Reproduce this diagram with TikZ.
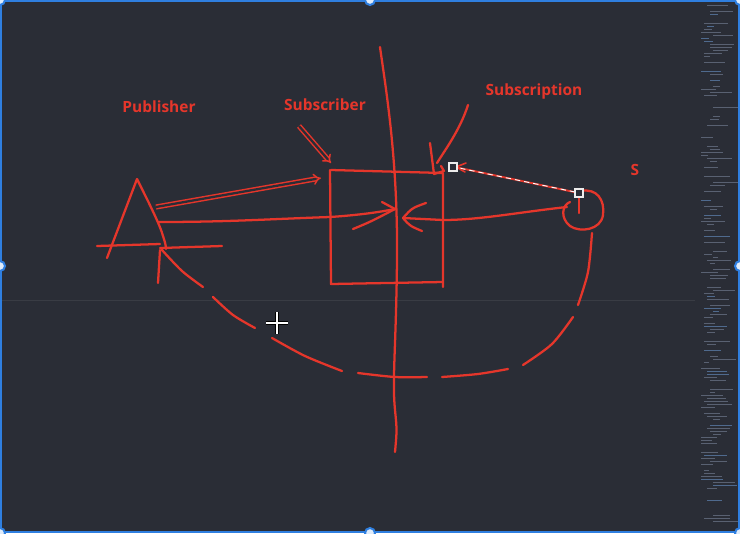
\documentclass[tikz,border=0pt]{standalone}
\usepackage{fontspec}
\setmainfont{Open Sans}
\usetikzlibrary{arrows.meta}
\definecolor{bg}{HTML}{2A2D36}
\definecolor{ink}{HTML}{E5362B}
\definecolor{selblue}{HTML}{2F7FE0}
\definecolor{mm}{HTML}{596172}
\definecolor{mmb}{HTML}{4F6A8E}
\begin{document}
\begin{tikzpicture}[x=0.75pt,y=-0.75pt,
  pen/.style={draw=ink,line width=1.7pt,line cap=round,line join=round},
  lbl/.style={text=ink,font=\bfseries\fontsize{11.6}{13}\selectfont,inner sep=0pt},
  dbl/.style={draw=ink,double=bg,double distance=1.7pt,line width=1.1pt,-{Implies}},
  handle/.style={draw=white!85!gray,line width=0.9pt,fill=bg}]
\fill[bg] (0,0) rectangle (740,533);
\useasboundingbox (0,0) rectangle (740,533);
\draw[bg!93!white,line width=0.6pt] (0,300) -- (695,300);
% minimap
\pgfmathsetseed{7}
\foreach \i in {0,...,172}{
  \pgfmathtruncatemacro\skp{random(0,9)}
  \ifnum\skp>2
    \pgfmathsetmacro\yy{5+3*\i}
    \pgfmathsetmacro\xs{701+random(0,4)*3}
    \pgfmathsetmacro\ln{random(4,26)}
    \pgfmathtruncatemacro\cl{random(0,5)}
    \ifnum\cl=0
      \draw[line width=0.5pt,mmb] (\xs,\yy) -- ++(\ln,0);
    \else
      \draw[line width=0.5pt,mm] (\xs,\yy) -- ++(\ln,0);
    \fi
  \fi
}
% labels
\node[lbl] (pub) at (159,107) {Publisher};
\node[lbl] (sub) at (325,105) {Subscriber};
\node[lbl] (subn) at (534,91) {Subscription};
\node[lbl] (s) at (635,170) {S};
% triangle publisher
\draw[pen] (107,258) -- (137,179) .. controls (150,205) and (160,225) .. (163,236) .. controls (165,242) and (166,246) .. (166,249);
\draw[pen] (97,246) -- (160,244);
\draw[pen] (160,248) -- (222,246);
% arrows from publisher
\draw[dbl] (156,207) -- (321,178);
\draw[pen] (158,222) .. controls (230,222) and (270,219) .. (330,217) .. controls (360,215) and (380,212) .. (395,209);
\draw[pen] (382,202) -- (395,209);
\draw[pen] (353,229) .. controls (370,222) .. (395,209);
% line from S
\draw[pen] (567,207) .. controls (520,212) and (480,220) .. (443,220) -- (403,218);
\draw[pen] (426,203) .. controls (412,208) .. (403,218) .. controls (410,226) .. (422,231);
% box
\draw[pen] (330,170) -- (331,284) -- (443,282);
\draw[pen] (331,170) -- (443,173) -- (443,287);
% vertical line
\draw[pen] (380,47) .. controls (386,90) and (398,160) .. (397,260) .. controls (396,350) and (392,380) .. (395,410) .. controls (397,430) .. (395,452);
% subscriber pointer
\draw[dbl] (299,126) -- (331,163);
% subscription pointer
\draw[pen] (468,105) .. controls (460,130) and (445,150) .. (437,163);
\draw[pen] (430,143) -- (434,174) -- (444,171) -- (441,166);
% selected line
\draw[pen,line width=1.4pt] (579,193) -- (455,167);
\draw[white,line width=0.7pt,dash pattern=on 4pt off 3pt] (575,192) -- (459,168);
\draw[pen,line width=1.2pt] (466,163) -- (456,167) -- (465,172);
% circle S
\draw[pen] (581,191) .. controls (597,188) and (605,200) .. (603,215) .. controls (601,230) and (580,233) .. (570,226) .. controls (560,218) and (562,205) .. (570,202);
\draw[pen] (579,193) -- (579,213);
\draw[handle] (449,163) rectangle (457,171);
\draw[handle] (575,189) rectangle (583,197);
% dashed return curve
\draw[pen] (160,250) -- (158,283);
\draw[pen] plot[smooth] coordinates {(162,250) (182,271) (203,287)};
\draw[pen] plot[smooth] coordinates {(213,297) (233,315) (255,328)};
\draw[pen] plot[smooth] coordinates {(272,338) (305,356) (342,371)};
\draw[pen] plot[smooth] coordinates {(358,373) (395,377) (427,377)};
\draw[pen] plot[smooth] coordinates {(442,377) (478,374) (508,369)};
\draw[pen] plot[smooth] coordinates {(523,365) (552,344) (573,317)};
\draw[pen] plot[smooth] coordinates {(578,305) (588,272) (592,233)};
% cursor
\draw[black,line width=2.6pt] (266,323) -- (288,323) (277,312) -- (277,334);
\draw[white,line width=1.2pt] (266,323) -- (288,323) (277,312) -- (277,334);
% selection frame
\draw[selblue,line width=1.5pt] (0.75,0.75) rectangle (739.25,532.25);
\foreach \p in {(0,0),(370,0),(740,0),(0,266),(740,266),(0,533),(370,533),(740,533)}
  \draw[selblue,fill=white!85!selblue,line width=1.5pt] \p circle (5);
\end{tikzpicture}
\end{document}
